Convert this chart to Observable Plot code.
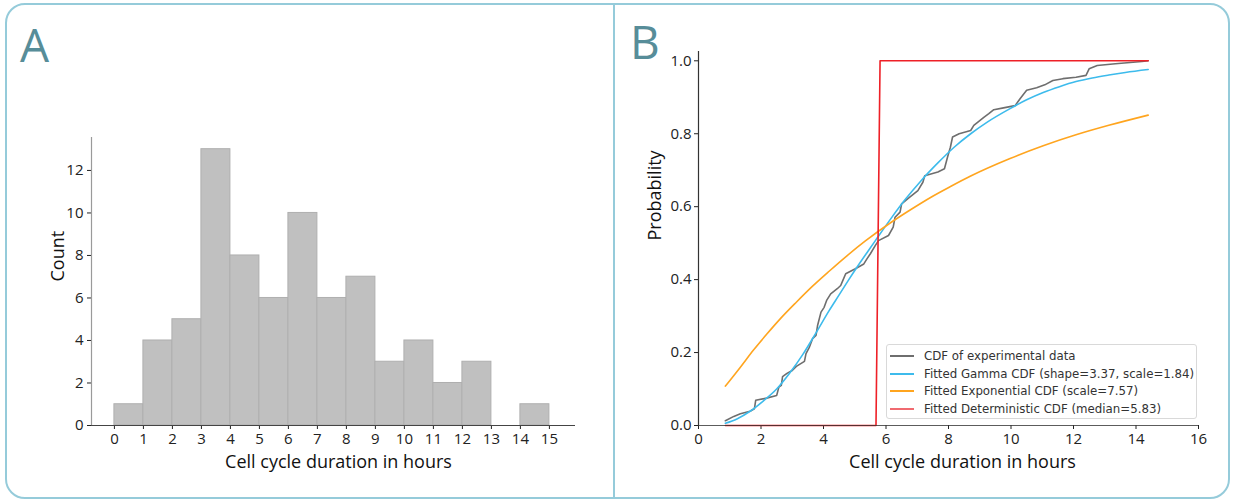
<!DOCTYPE html>
<html>
<head>
<meta charset="utf-8">
<script src="https://cdn.jsdelivr.net/npm/d3@7"></script>
<script src="https://cdn.jsdelivr.net/npm/@observablehq/plot@0.6"></script>
<style>
  body { margin: 0; background: #fff; }
  #wrap { position: relative; width: 1234px; height: 501px; overflow: hidden; background: #fff; font-family: "Open Sans", sans-serif; }
  .frame { position: absolute; left: 5px; top: 3px; width: 1225px; height: 496px; box-sizing: border-box; border: 2.5px solid #95cbda; border-radius: 20px; pointer-events: none; }
  .divider { position: absolute; left: 612.5px; top: 4px; width: 2.5px; height: 494px; background: #95cbda; }
  .panel-label { position: absolute; font-family: "Open Sans", sans-serif; font-size: 46px; color: #578d99; font-weight: 400; line-height: 1; }
  .plot { position: absolute; top: 0; }
  .legend { position: absolute; left: 886px; top: 344px; width: 311px; height: 75px; box-sizing: border-box; border: 1px solid #d9d9d9; border-radius: 3px; background: rgba(255,255,255,0.85); font-family: "DejaVu Sans", sans-serif; font-size: 11.8px; color: #333; }
  .legend .row { position: absolute; left: 0; height: 16px; display: flex; align-items: center; white-space: nowrap; }
  .legend .sw { width: 24px; height: 2px; margin-left: 3px; margin-right: 10px; }
</style>
</head>
<body>
<div id="wrap">
  <div id="plotA" class="plot" style="left:0px;"></div>
  <div id="plotB" class="plot" style="left:615px;"></div>
  <div class="frame"></div>
  <div class="divider"></div>
  <div class="panel-label" style="left:20px; top:21px;">A</div>
  <div class="panel-label" style="left:630px; top:18px;">B</div>
  <div class="legend" id="legend"></div>
</div>
<script>
// ---------- Panel A: histogram ----------
const binStart = [0, 1, 2, 3, 4, 5, 6, 7, 8, 9, 10, 11, 12, 13, 14];
const binEnd   = [1, 2, 3, 4, 5, 6, 7, 8, 9, 10, 11, 12, 13, 14, 15];
const counts   = [1, 4, 5, 13, 8, 6, 10, 6, 7, 3, 4, 2, 3, 0, 1];
const xTicksA  = [0, 1, 2, 3, 4, 5, 6, 7, 8, 9, 10, 11, 12, 13, 14, 15];
const yTicksA  = [0, 2, 4, 6, 8, 10, 12];
const xDomainA = [-0.79, 15.9];
const yDomainA = [0, 13.55];

// ---------- Panel B: CDFs ----------
const expX = [0.86,1.13,1.34,1.65,1.79,1.83,2.18,2.50,2.57,2.65,2.69,2.83,3.00,3.13,3.39,3.44,3.55,3.65,3.76,3.81,3.92,4.02,4.10,4.23,4.44,4.55,4.62,4.71,5.02,5.29,5.39,5.50,5.66,5.76,6.08,6.23,6.29,6.45,6.50,6.76,7.02,7.18,7.24,7.66,7.87,7.97,8.06,8.13,8.34,8.71,8.81,9.00,9.13,9.29,9.45,9.76,10.13,10.29,10.50,10.82,11.08,11.34,11.66,12.08,12.40,12.50,12.76,13.34,14.19,14.39];
const expP = [0.013,0.025,0.032,0.039,0.046,0.069,0.075,0.082,0.105,0.110,0.134,0.143,0.151,0.162,0.176,0.197,0.215,0.238,0.247,0.274,0.311,0.324,0.343,0.361,0.375,0.384,0.398,0.416,0.430,0.443,0.457,0.471,0.494,0.507,0.521,0.544,0.571,0.585,0.608,0.626,0.644,0.667,0.685,0.695,0.704,0.736,0.763,0.791,0.800,0.809,0.823,0.836,0.845,0.855,0.866,0.871,0.877,0.896,0.919,0.926,0.934,0.946,0.951,0.955,0.960,0.978,0.987,0.992,0.998,1.0];

const gammaX = [0.86,1.23,1.65,2.07,2.50,2.92,3.34,3.76,4.18,4.50,4.81,5.07,5.44,5.66,6.18,6.60,7.13,7.66,8.18,8.71,9.24,9.97,10.50,11.03,11.55,12.08,12.60,13.13,13.66,14.39];
const gammaP = [0.006,0.018,0.039,0.067,0.100,0.144,0.195,0.254,0.315,0.358,0.400,0.434,0.480,0.507,0.570,0.618,0.672,0.720,0.763,0.800,0.832,0.869,0.893,0.913,0.929,0.943,0.953,0.961,0.968,0.976];

const exponX = [0.86,1.34,1.76,2.18,2.60,3.13,3.65,4.18,4.76,5.34,6.18,6.81,7.44,8.08,8.71,9.97,11.03,12.08,13.13,14.39];
const exponP = [0.108,0.160,0.207,0.250,0.291,0.338,0.382,0.423,0.466,0.506,0.558,0.593,0.626,0.656,0.684,0.732,0.767,0.797,0.823,0.851];

const detX = [0.86, 5.68, 5.81, 14.39];
const detP = [0, 0, 1, 1];

const xTicksB = [0, 2, 4, 6, 8, 10, 12, 14, 16];
const yTicksB = [0, 0.2, 0.4, 0.6, 0.8, 1.0];
const xDomainB = [0, 16];
const yDomainB = [0, 1.0255];

const seriesNames = [
  "CDF of experimental data",
  "Fitted Gamma CDF (shape=3.37, scale=1.84)",
  "Fitted Exponential CDF (scale=7.57)",
  "Fitted Deterministic CDF (median=5.83)"
];
const seriesColors = ["#6e6e6e", "#3dbbec", "#ffa51f", "#ee2027"];
const legendColors = ["#6e6e6e", "#3dbbec", "#ffa51f", "#f06a70"];

const zip = (xs, ps) => xs.map((x, i) => ({x, p: ps[i]}));
const bins = binStart.map((s, i) => ({x1: s, x2: binEnd[i], count: counts[i]})).filter(d => d.count > 0);

const axisTitle = "Cell cycle duration in hours";

const plotA = Plot.plot({
  width: 613, height: 501,
  marginLeft: 91, marginRight: 38, marginTop: 137, marginBottom: 76,
  x: {domain: xDomainA, ticks: xTicksA, tickSize: 4, tickPadding: 4, label: null},
  y: {domain: yDomainA, ticks: yTicksA, tickSize: 4, tickPadding: 4, label: null},
  style: {background: "transparent", fontFamily: "Open Sans, sans-serif", fontSize: "15px", color: "#222", overflow: "visible"},
  marks: [
    Plot.rectY(bins, {x1: "x1", x2: "x2", y: "count", fill: "#c0c0c0", stroke: "#afafaf", strokeWidth: 1}),
    Plot.ruleX([xDomainA[0]], {stroke: "#9a9a9a", strokeWidth: 1.2}),
    Plot.ruleY([0], {stroke: "#444", strokeWidth: 1.2}),
    Plot.text(["Count"], {text: d => d, frameAnchor: "left", rotate: -90, dx: -33, fontSize: 18, fill: "#111"}),
    Plot.text([axisTitle], {text: d => d, frameAnchor: "bottom", dx: 5, dy: 42, fontSize: 18, fill: "#111"})
  ]
});
document.getElementById("plotA").append(plotA);

const plotB = Plot.plot({
  width: 619, height: 501,
  marginLeft: 83, marginRight: 36, marginTop: 51, marginBottom: 76,
  x: {domain: xDomainB, ticks: xTicksB, tickSize: 4, tickPadding: 4, label: null},
  y: {domain: yDomainB, ticks: yTicksB, tickSize: 4, tickPadding: 3, tickFormat: d3.format(".1f"), label: null},
  style: {background: "transparent", fontFamily: "Open Sans, sans-serif", fontSize: "15px", color: "#222", overflow: "visible"},
  marks: [
    Plot.line(zip(expX, expP), {x: "x", y: "p", stroke: seriesColors[0], strokeWidth: 1.6}),
    Plot.line(zip(gammaX, gammaP), {x: "x", y: "p", stroke: seriesColors[1], strokeWidth: 1.6, curve: "monotone-x"}),
    Plot.line(zip(exponX, exponP), {x: "x", y: "p", stroke: seriesColors[2], strokeWidth: 1.6, curve: "monotone-x"}),
    Plot.line(zip(detX, detP), {x: "x", y: "p", stroke: seriesColors[3], strokeWidth: 1.6}),
    Plot.ruleX([xDomainB[0]], {stroke: "#333", strokeWidth: 1.2}),
    Plot.ruleY([0], {stroke: "#333", strokeWidth: 1.2, strokeOpacity: 0.8}),
    Plot.text(["Probability"], {text: d => d, frameAnchor: "left", rotate: -90, dx: -43, dy: 2, fontSize: 18, fill: "#111"}),
    Plot.text([axisTitle], {text: d => d, frameAnchor: "bottom", dx: 14, dy: 42, fontSize: 18, fill: "#111"})
  ]
});
document.getElementById("plotB").append(plotB);

// legend
const legend = document.getElementById("legend");
seriesNames.forEach((name, i) => {
  const row = document.createElement("div");
  row.className = "row";
  row.style.top = (3 + i * 17.6) + "px";
  const sw = document.createElement("div");
  sw.className = "sw";
  sw.style.background = legendColors[i];
  const label = document.createElement("span");
  label.textContent = name;
  row.append(sw, label);
  legend.append(row);
});
</script>
</body>
</html>
